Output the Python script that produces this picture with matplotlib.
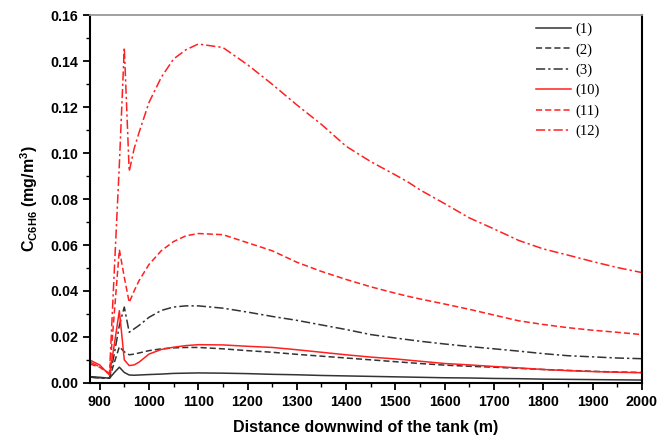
import numpy as np
import matplotlib.pyplot as plt
from matplotlib.ticker import MultipleLocator

plt.rcParams['mathtext.fontset'] = 'custom'
plt.rcParams['mathtext.rm'] = 'Liberation Sans:bold'
plt.rcParams['mathtext.bf'] = 'Liberation Sans:bold'

# distance downwind (m)
dist = [880, 900, 920, 930, 940, 950, 960, 970, 980, 1000, 1025, 1050, 1075, 1100,
        1150, 1200, 1250, 1300, 1350, 1400, 1450, 1500, 1525, 1550, 1600, 1650,
        1700, 1750, 1800, 1850, 1900, 1950, 2000]

# benzene concentration (mg/m3) for each case
c1 = [0.0027, 0.0024, 0.0020, 0.0045, 0.0068, 0.0045, 0.0034, 0.0033, 0.0034, 0.0036,
      0.0038, 0.0041, 0.0042, 0.0043, 0.0042, 0.0040, 0.0037, 0.0035, 0.0032, 0.0030,
      0.0028, 0.0026, 0.0025, 0.0024, 0.0022, 0.0021, 0.0019, 0.0018, 0.0016, 0.0015,
      0.0014, 0.0013, 0.0012]
c2 = [0.0025, 0.0022, 0.0020, 0.0090, 0.0157, 0.0135, 0.0122, 0.0125, 0.0130, 0.0140,
      0.0148, 0.0152, 0.0154, 0.0154, 0.0148, 0.0140, 0.0133, 0.0124, 0.0116, 0.0108,
      0.0100, 0.0092, 0.0088, 0.0084, 0.0077, 0.0072, 0.0068, 0.0063, 0.0058, 0.0054,
      0.0050, 0.0047, 0.0045]
c3 = [0.0025, 0.0020, 0.0020, 0.0130, 0.0250, 0.0330, 0.0220, 0.0235, 0.0250, 0.0285,
      0.0315, 0.0330, 0.0335, 0.0335, 0.0325, 0.0308, 0.0289, 0.0272, 0.0252, 0.0232,
      0.0210, 0.0195, 0.0188, 0.0181, 0.0169, 0.0158, 0.0148, 0.0138, 0.0127, 0.0118,
      0.0113, 0.0108, 0.0105]
c10 = [0.0099, 0.0078, 0.0034, 0.0170, 0.0314, 0.0100, 0.0075, 0.0078, 0.0090, 0.0125,
       0.0145, 0.0155, 0.0162, 0.0166, 0.0165, 0.0159, 0.0154, 0.0144, 0.0133, 0.0122,
       0.0112, 0.0104, 0.0099, 0.0094, 0.0084, 0.0078, 0.0071, 0.0065, 0.0058, 0.0053,
       0.0049, 0.0046, 0.0044]
c11 = [0.0082, 0.0068, 0.0040, 0.0310, 0.0580, 0.0460, 0.0350, 0.0400, 0.0445, 0.0515,
       0.0575, 0.0615, 0.0640, 0.0650, 0.0645, 0.0610, 0.0575, 0.0525, 0.0485, 0.0450,
       0.0418, 0.0390, 0.0377, 0.0365, 0.0343, 0.0320, 0.0295, 0.0270, 0.0254, 0.0240,
       0.0229, 0.0220, 0.0210]
c12 = [0.0090, 0.0070, 0.0040, 0.0500, 0.0950, 0.1460, 0.0920, 0.1020, 0.1090, 0.1220,
       0.1330, 0.1410, 0.1450, 0.1475, 0.1460, 0.1385, 0.1300, 0.1210, 0.1125, 0.1030,
       0.0963, 0.0905, 0.0875, 0.0840, 0.0780, 0.0718, 0.0670, 0.0620, 0.0583, 0.0556,
       0.0528, 0.0502, 0.0480]

labels = ['(1)', '(2)', '(3)', '(10)', '(11)', '(12)']

fig = plt.figure(figsize=(6.7, 4.38), dpi=100)
ax = fig.add_axes([0.134, 0.126, 0.824, 0.839])

dash = (0, (4, 2))
dashdot = (0, (6, 2, 1.5, 2))
ax.plot(dist, c1, color='#333333', lw=1.1, ls='-', label=labels[0])
ax.plot(dist, c2, color='#333333', lw=1.1, ls=dash, label=labels[1])
ax.plot(dist, c3, color='#333333', lw=1.1, ls=dashdot, label=labels[2])
ax.plot(dist, c10, color='#ff2020', lw=1.1, ls='-', label=labels[3])
ax.plot(dist, c11, color='#ff2020', lw=1.1, ls=dash, label=labels[4])
ax.plot(dist, c12, color='#ff2020', lw=1.1, ls=dashdot, label=labels[5])

ax.set_xlim(880, 2000)
ax.set_ylim(0, 0.16)
ax.xaxis.set_major_locator(MultipleLocator(100))
ax.xaxis.set_minor_locator(MultipleLocator(50))
ax.yaxis.set_major_locator(MultipleLocator(0.02))
ax.yaxis.set_minor_locator(MultipleLocator(0.01))
ax.yaxis.set_major_formatter(plt.FormatStrFormatter('%.2f'))

ax.tick_params(which='major', direction='out', length=5, width=1.3, labelsize=10.3)
ax.tick_params(which='minor', direction='out', length=3, width=1.0)
for lab in ax.get_xticklabels() + ax.get_yticklabels():
    lab.set_fontweight('bold')
    lab.set_family('Liberation Sans')

for s in ['left', 'bottom']:
    ax.spines[s].set_linewidth(1.5)
ax.spines['top'].set_color('#999999')
ax.spines['top'].set_linewidth(1.3)
ax.spines['right'].set_linewidth(1.5)

ax.set_xlabel('Distance downwind of the tank (m)', fontsize=11.5, fontweight='bold',
              family='Liberation Sans', labelpad=8)
ax.set_ylabel(r'C$_{\mathbf{C6H6}}$ (mg/m$^{\mathbf{3}}$)', fontsize=11.5,
              fontweight='bold', family='Liberation Sans', labelpad=7)

leg = ax.legend(loc='upper right', frameon=False, handlelength=2.35, handletextpad=0.3,
                labelspacing=0.47, prop={'family': 'Liberation Serif', 'size': 10.5},
                bbox_to_anchor=(0.947, 1.015))

plt.savefig('out.png', dpi=100)
